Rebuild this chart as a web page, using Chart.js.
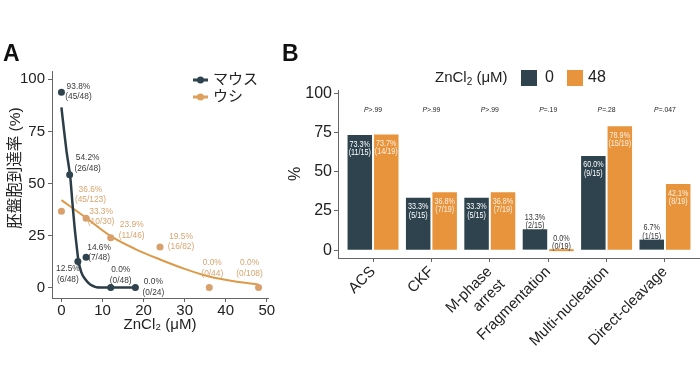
<!DOCTYPE html>
<html>
<head>
<meta charset="utf-8">
<script src="https://cdn.jsdelivr.net/npm/chart.js@4"></script>
<style>
  body { margin: 0; background: #fff; width: 700px; height: 391px; position: relative; overflow: hidden; font-family: "Liberation Sans", Arial, sans-serif; }
  canvas { position: absolute; top: 0; }
  #ca { left: 0; }
  #cb { left: 280px; }
  .tag { position: absolute; font-weight: bold; font-size: 23px; color: #111; }
</style>
</head>
<body>
<canvas id="ca" width="285" height="391"></canvas>
<canvas id="cb" width="420" height="391"></canvas>
<div class="tag" style="left:3px;top:40px">A</div>
<div class="tag" style="left:282px;top:40px">B</div>
<script>
// A: blastocyst rate vs ZnCl2
var mouseX = [0, 2, 4, 6, 12, 18];
var mouseY = [93.8, 54.2, 12.5, 14.6, 0.0, 0.0];
var mouseN = ["(45/48)", "(26/48)", "(6/48)", "(7/48)", "(0/48)", "(0/24)"];
var cowX = [0, 6, 12, 24, 36, 48];
var cowY = [36.6, 33.3, 23.9, 19.5, 0.0, 0.0];
var cowN = ["(45/123)", "(10/30)", "(11/46)", "(16/82)", "(0/44)", "(0/108)"];
// fitted curves
var mouseFitX = [0, 0.6, 1.2, 2.2, 2.7, 3.2, 3.7, 4.1, 4.8, 5.8, 7, 9.5, 18];
var mouseFitY = [86.5, 76, 66, 52, 40, 29, 20, 13.5, 7.5, 4, 1.5, 0, 0];
var cowFitX = [0, 6, 12, 18, 24, 30, 36, 42, 48];
var cowFitY = [42, 33.5, 24.7, 18.5, 13.5, 9, 5.3, 3, 1.5];

// B: cleavage patterns
var catsB = ["ACS", "CKF", ["M-phase", "arrest"], "Fragmentation", "Multi-nucleation", "Direct-cleavage"];
var zn0 = [73.3, 33.3, 33.3, 13.3, 60.0, 6.7];
var zn48 = [73.7, 36.8, 36.8, 0.0, 78.9, 42.1];
var zn0N = ["(11/15)", "(5/15)", "(5/15)", "(2/15)", "(9/15)", "(1/15)"];
var zn48N = ["(14/19)", "(7/19)", "(7/19)", "(0/19)", "(15/19)", "(8/19)"];
var pvals = [">.99", ">.99", ">.99", "=.19", "=.28", "=.047"];

var DARK = "#2e434e";
var ORANGE = "#e8943c";
var TAN = "#d9a06c";
var FONT = "'Liberation Sans', Arial, sans-serif";
var JP = "'Liberation Sans', 'Noto Sans CJK JP', sans-serif";

Chart.defaults.font.family = FONT;
Chart.defaults.color = "#222";
Chart.defaults.animation = false;

// label offsets (px) of first text line from each point
var mouseLblPos = [[17, -6], [18, -17], [-10, 7], [13, -10], [10, -18], [18, -6]];
var cowLblPos = [[29, -22], [15, -7], [21, -13], [21, -11], [3, -25], [-9, -25]];

function pts(xs, ys) {
  return xs.map(function (x, i) { return { x: x, y: ys[i] }; });
}

// narrow text: squeeze horizontally like the condensed labels of the original
function narrow(ctx, txt, x, y, sq) {
  ctx.save();
  ctx.translate(x, y);
  ctx.scale(sq, 1);
  ctx.fillText(txt, 0, 0);
  ctx.restore();
}

var labelsA = {
  id: "labelsA",
  afterDatasetsDraw: function (chart) {
    var ctx = chart.ctx, sx = chart.scales.x, sy = chart.scales.y;
    ctx.save();
    ctx.font = "9.5px " + FONT;
    ctx.textAlign = "center";
    ctx.textBaseline = "middle";
    function lbl(xs, ys, ns, pos, col) {
      ctx.fillStyle = col;
      xs.forEach(function (x, i) {
        var px = sx.getPixelForValue(x) + pos[i][0];
        var py = sy.getPixelForValue(ys[i]) + pos[i][1];
        narrow(ctx, ys[i].toFixed(1) + "%", px, py, 0.88);
        narrow(ctx, ns[i], px, py + 10.5, 0.88);
      });
    }
    lbl(mouseX, mouseY, mouseN, mouseLblPos, "#3a3a3a");
    lbl(cowX, cowY, cowN, cowLblPos, "#d9a46e");
    // y axis title (sits a bit above the panel middle in the original)
    ctx.save();
    ctx.translate(16, 168);
    ctx.rotate(-Math.PI / 2);
    ctx.fillStyle = "#222";
    ctx.font = "15.5px " + JP;
    ctx.fillText("胚盤胞到達率 (%)", 0, 0);
    ctx.restore();
    // legend
    [["マウス", DARK, 80], ["ウシ", "#dea05a", 97]].forEach(function (it) {
      ctx.strokeStyle = it[1];
      ctx.fillStyle = it[1];
      ctx.lineWidth = 3;
      ctx.beginPath();
      ctx.moveTo(193, it[2]);
      ctx.lineTo(208, it[2]);
      ctx.stroke();
      ctx.beginPath();
      ctx.arc(200.5, it[2], 3.5, 0, Math.PI * 2);
      ctx.fill();
      ctx.fillStyle = "#222";
      ctx.textAlign = "left";
      ctx.font = "15px " + JP;
      ctx.fillText(it[0], 213, it[2]);
    });
    ctx.restore();
  }
};

new Chart(document.getElementById("ca"), {
  data: {
    datasets: [
      { type: "scatter", data: pts(mouseX, mouseY), pointRadius: 3.5, pointBackgroundColor: DARK, pointBorderWidth: 0 },
      { type: "scatter", data: pts(cowX, cowY), pointRadius: 3.5, pointBackgroundColor: TAN, pointBorderWidth: 0 },
      { type: "line", data: pts(mouseFitX, mouseFitY), borderColor: "#2c3d47", borderWidth: 2.5, pointRadius: 0, cubicInterpolationMode: "monotone" },
      { type: "line", data: pts(cowFitX, cowFitY), borderColor: "#dc9a48", borderWidth: 2, pointRadius: 0, cubicInterpolationMode: "monotone" }
    ]
  },
  options: {
    responsive: false,
    layout: { padding: { left: 4, top: 71, right: 17, bottom: 53 } },
    plugins: { legend: { display: false }, tooltip: { enabled: false } },
    scales: {
      x: {
        type: "linear", min: -2.3, max: 50.3,
        ticks: { stepSize: 10, includeBounds: false, padding: 0, font: { size: 15 }, color: "#222" },
        grid: { drawOnChartArea: false, drawTicks: true, tickLength: 4, color: "#666" },
        border: { color: "#666" },
        title: { display: true, text: "ZnCl₂ (μM)", font: { size: 15 }, color: "#222" },
        afterFit: function (s) { s.height = 40; }
      },
      y: {
        min: -5, max: 104,
        ticks: { stepSize: 25, includeBounds: false, padding: 3, font: { size: 15 }, color: "#222" },
        grid: { drawOnChartArea: false, drawTicks: true, tickLength: 4, color: "#666" },
        border: { color: "#666" },
        afterFit: function (s) { s.width = 48; }
      }
    }
  },
  plugins: [labelsA]
});

var labelsB = {
  id: "labelsB",
  afterDatasetsDraw: function (chart) {
    var ctx = chart.ctx, sx = chart.scales.x, sy = chart.scales.y;
    ctx.save();
    ctx.textAlign = "center";
    ctx.textBaseline = "middle";
    ctx.font = "9px " + FONT;
    [[zn0, zn0N, "#fff"], [zn48, zn48N, "#fdf1e2"]].forEach(function (s, d) {
      var meta = chart.getDatasetMeta(d);
      meta.data.forEach(function (bar, i) {
        var v = s[0][i];
        var top = sy.getPixelForValue(v);
        var inside = v >= 20;
        ctx.fillStyle = inside ? s[2] : "#333";
        var y1 = inside ? top + 9 : top - 12;
        narrow(ctx, v.toFixed(1) + "%", bar.x, y1, 0.8);
        narrow(ctx, s[1][i], bar.x, y1 + 8.5, 0.8);
      });
    });
    // p values
    ctx.fillStyle = "#222";
    pvals.forEach(function (p, i) {
      var cx = sx.getPixelForValue(i + 1);
      ctx.font = "italic 8px " + FONT;
      var w1 = ctx.measureText("P").width * 0.85;
      ctx.font = "8px " + FONT;
      var w2 = ctx.measureText(p).width * 0.85;
      var x0 = cx - (w1 + w2) / 2;
      ctx.textAlign = "left";
      ctx.font = "italic 8px " + FONT;
      narrow(ctx, "P", x0, 110, 0.85);
      ctx.font = "8px " + FONT;
      narrow(ctx, p, x0 + w1, 110, 0.85);
    });
    // legend
    ctx.textAlign = "left";
    ctx.fillStyle = "#222";
    var x = 155;
    ctx.font = "15px " + FONT;
    ctx.fillText("ZnCl", x, 78);
    x += ctx.measureText("ZnCl").width;
    ctx.font = "10px " + FONT;
    ctx.fillText("2", x, 82);
    x += ctx.measureText("2").width;
    ctx.font = "15px " + FONT;
    ctx.fillText(" (μM)", x, 78);
    ctx.fillStyle = DARK;
    ctx.fillRect(241, 70, 16, 16);
    ctx.fillStyle = ORANGE;
    ctx.fillRect(287, 70, 16, 16);
    ctx.fillStyle = "#222";
    ctx.font = "16px " + FONT;
    ctx.fillText("0", 265, 78);
    ctx.fillText("48", 308, 78);
    ctx.restore();
  }
};

new Chart(document.getElementById("cb"), {
  type: "bar",
  data: {
    datasets: [
      { data: pts([1, 2, 3, 4, 5, 6], zn0), backgroundColor: DARK },
      { data: pts([1, 2, 3, 4, 5, 6], zn48), backgroundColor: ORANGE, minBarLength: 2 }
    ]
  },
  options: {
    responsive: false,
    layout: { padding: { left: 2, top: 90, right: 0, bottom: 33 } },
    datasets: { bar: { categoryPercentage: 0.907, barPercentage: 0.925 } },
    plugins: { legend: { display: false }, tooltip: { enabled: false } },
    scales: {
      x: {
        type: "linear", min: 0.4, max: 6.6, offset: false,
        ticks: {
          stepSize: 1, includeBounds: false, autoSkip: false, maxRotation: 45, minRotation: 45,
          padding: 1, font: { size: 15 }, color: "#222",
          callback: function (v) { return catsB[v - 1]; }
        },
        grid: { offset: false, drawOnChartArea: false, drawTicks: true, tickLength: 4, color: "#666" },
        border: { color: "#666" },
        afterFit: function (s) { s.height = 100; }
      },
      y: {
        min: -5, max: 102,
        ticks: { stepSize: 25, includeBounds: false, padding: 2, font: { size: 16 }, color: "#222" },
        grid: { drawOnChartArea: false, drawTicks: true, tickLength: 4, color: "#666" },
        border: { color: "#666" },
        title: { display: true, text: "%", font: { size: 16 }, color: "#222" },
        afterFit: function (s) { s.width = 56; }
      }
    }
  },
  plugins: [labelsB]
});
</script>
</body>
</html>
